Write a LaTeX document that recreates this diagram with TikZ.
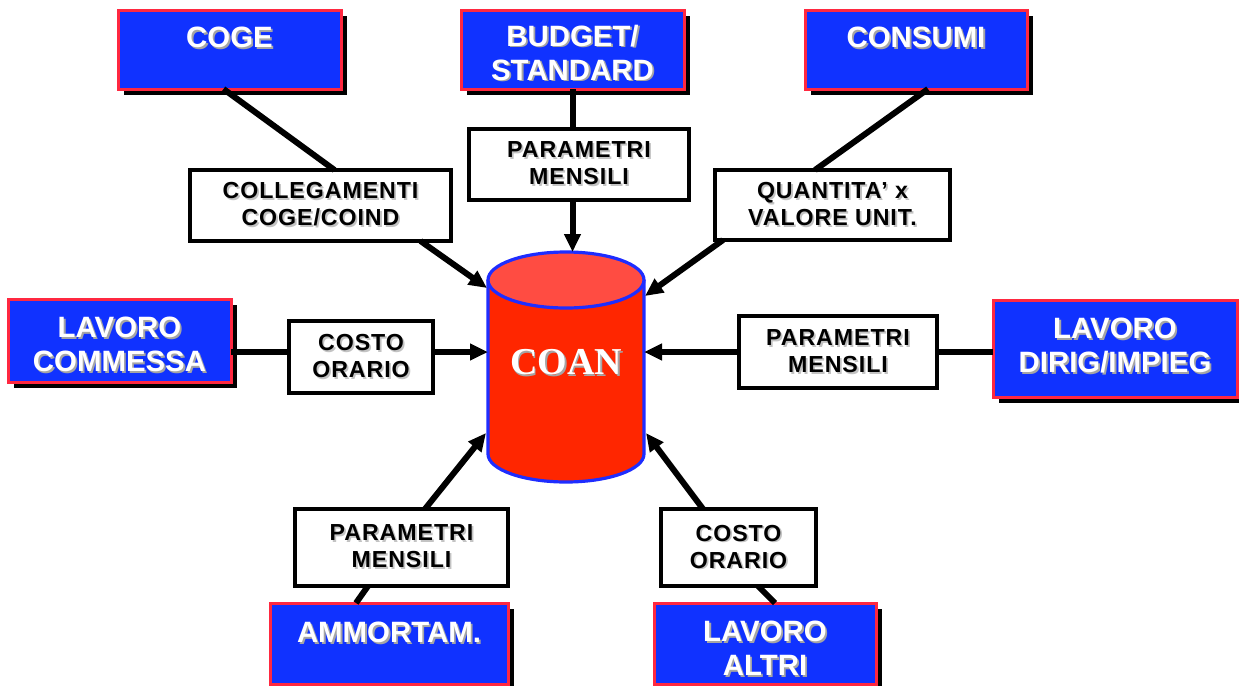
\documentclass[tikz,border=0pt]{standalone}
\usepackage{fontspec}
\setmainfont{Liberation Sans}
\newfontfamily\coanfont{Liberation Serif}
\newfontfamily\wfont[LetterSpace=4]{Liberation Sans}
\usetikzlibrary{calc,arrows.meta,shadows,backgrounds}
\definecolor{blueb}{RGB}{16,50,255}
\definecolor{redb}{RGB}{255,40,64}
\definecolor{cylbody}{RGB}{255,38,0}
\definecolor{cyltop}{RGB}{255,76,66}
\definecolor{cylline}{RGB}{30,45,255}
\definecolor{sgray}{RGB}{165,165,165}
\definecolor{lgray}{RGB}{195,195,195}
\newcommand\shtext[3][0pt]{\raisebox{#1}[\height][\depth]{\makebox[0pt][l]{\hspace{0.9pt}\raisebox{-0.9pt}{\textcolor{#2}{#3}}}#3}}
\tikzset{
  bluebox/.style={draw=redb, fill=blueb, line width=1.5pt,
    general shadow={fill=black, shadow xshift=2.75pt, shadow yshift=-2.75pt},
    text=white, align=center, inner sep=0pt, outer sep=0pt,
    font=\bfseries\fontsize{14.7}{17}\selectfont},
  whitebox/.style={draw=black, fill=white, line width=1.6pt, text=black,
    align=center, inner sep=0pt, outer sep=0pt,
    font=\wfont\bfseries\fontsize{11.6}{13.5}\selectfont},
  link/.style={line width=3pt, draw=black},
  arr/.style={link, -{Triangle[length=9pt,width=8pt]}},
}
\begin{document}
\begin{tikzpicture}[x=0.5pt,y=0.5pt]
\useasboundingbox (0,0) rectangle (1239,-686);

% central database
\node[inner sep=0pt, outer sep=0pt, minimum width=78pt, minimum height=115pt,
  text=white, font=\coanfont\bfseries\fontsize{19}{22}\selectfont]
  (coan) at (566,-367) {\shtext[2pt]{sgray}{COAN}};
\begin{pgfonlayer}{background}
\fill[cylbody] ($(coan.north west)+(0,-28)$) -- ($(coan.south west)+(0,28)$)
  arc[start angle=180,end angle=360,x radius=78,y radius=28]
  -- ($(coan.north east)+(0,-28)$) -- cycle;
\draw[cylline, line width=1.6pt] ($(coan.north west)+(0,-28)$) -- ($(coan.south west)+(0,28)$)
  arc[start angle=180,end angle=360,x radius=78,y radius=28]
  -- ($(coan.north east)+(0,-28)$);
\filldraw[fill=cyltop, draw=cylline, line width=1.6pt]
  ($(coan.north)+(0,-28)$) ellipse [x radius=78, y radius=28];
\end{pgfonlayer}

% source boxes
\node[bluebox, minimum width=111.5pt, minimum height=39.5pt] (coge) at (229.5,-49.5)
  {\shtext[5.75pt]{sgray}{COGE}};
\node[bluebox, minimum width=111.5pt, minimum height=39.5pt] (budget) at (572.5,-49.5)
  {\shtext[-2pt]{sgray}{BUDGET/}\\\shtext[-2pt]{sgray}{STANDARD}};
\node[bluebox, minimum width=111pt, minimum height=39.5pt] (consumi) at (916,-49.5)
  {\shtext[5.75pt]{sgray}{CONSUMI}};
\node[bluebox, minimum width=111.5pt, minimum height=41.5pt] (commessa) at (119.5,-340.5)
  {\shtext[-2.5pt]{sgray}{LAVORO}\\\shtext[-2.5pt]{sgray}{COMMESSA}};
\node[bluebox, minimum width=122pt, minimum height=48.5pt] (dirig) at (1115,-348.5)
  {\shtext[1pt]{sgray}{LAVORO}\\\shtext[1pt]{sgray}{DIRIG/IMPIEG}};
\node[bluebox, minimum width=119pt, minimum height=40.5pt] (ammortam) at (389,-643.5)
  {\shtext[5.25pt]{sgray}{AMMORTAM.}};
\node[bluebox, minimum width=111pt, minimum height=40.5pt] (altri) at (765,-643.5)
  {\shtext[-2.75pt]{sgray}{LAVORO}\\\shtext[-2.75pt]{sgray}{ALTRI}};

% parameter boxes
\node[whitebox, minimum width=110pt, minimum height=35.5pt] (parT) at (579,-164.5)
  {\shtext{lgray}{PARAMETRI}\\\shtext{lgray}{MENSILI}};
\node[whitebox, minimum width=130.5pt, minimum height=35.5pt] (colleg) at (320.5,-205.5)
  {\shtext{lgray}{COLLEGAMENTI}\\\shtext{lgray}{COGE/COIND}};
\node[whitebox, minimum width=117.5pt, minimum height=35pt] (quant) at (832.5,-205)
  {\shtext{lgray}{QUANTITA’ x}\\\shtext{lgray}{VALORE UNIT.}};
\node[whitebox, minimum width=72pt, minimum height=36pt] (costoL) at (361,-357)
  {\shtext{lgray}{COSTO}\\\shtext{lgray}{ORARIO}};
\node[whitebox, minimum width=99pt, minimum height=36pt] (parR) at (838,-352)
  {\shtext{lgray}{PARAMETRI}\\\shtext{lgray}{MENSILI}};
\node[whitebox, minimum width=106.5pt, minimum height=38.5pt] (parB) at (401.5,-547.5)
  {\shtext{lgray}{PARAMETRI}\\\shtext{lgray}{MENSILI}};
\node[whitebox, minimum width=77.5pt, minimum height=38.5pt] (costoB) at (738.5,-547.5)
  {\shtext{lgray}{COSTO}\\\shtext{lgray}{ORARIO}};

% connectors
\draw[link] ($(coge.south)+(-6,0)$) -- ($(colleg.north)+(14,0)$);
\draw[arr] ($(colleg.south)+(100,0)$) -- ($(coan.north west)+(-1,-36)$);

\draw[link] (budget.south) -- (budget.south |- parT.north);
\draw[arr] (parT.south -| budget.south) -- (coan.north -| budget.south);

\draw[link] ($(consumi.south)+(12,0)$) -- ($(quant.north)+(-17.5,0)$);
\draw[arr] ($(quant.south)+(-109.5,0)$) -- ($(coan.north east)+(1,-44)$);

\coordinate (yl) at ($(costoL.west)+(0,5)$);
\draw[link] (commessa.east |- yl) -- (yl);
\draw[arr] (costoL.east |- yl) -- (coan.west |- yl);

\draw[link] (dirig.west |- parR.east) -- (parR.east);
\draw[arr] (parR.west) -- (coan.east |- parR.west);

\draw[link] ($(ammortam.north)+(-33,0)$) -- ($(parB.south)+(-33.5,0)$);
\draw[arr] ($(parB.north)+(23.5,0)$) -- ($(coan.south west)+(-2,49)$);

\draw[link] ($(altri.north)+(10,0)$) -- ($(costoB.south)+(19.5,0)$);
\draw[arr] ($(costoB.north)+(-35.5,0)$) -- ($(coan.south east)+(2,49)$);
\end{tikzpicture}
\end{document}
